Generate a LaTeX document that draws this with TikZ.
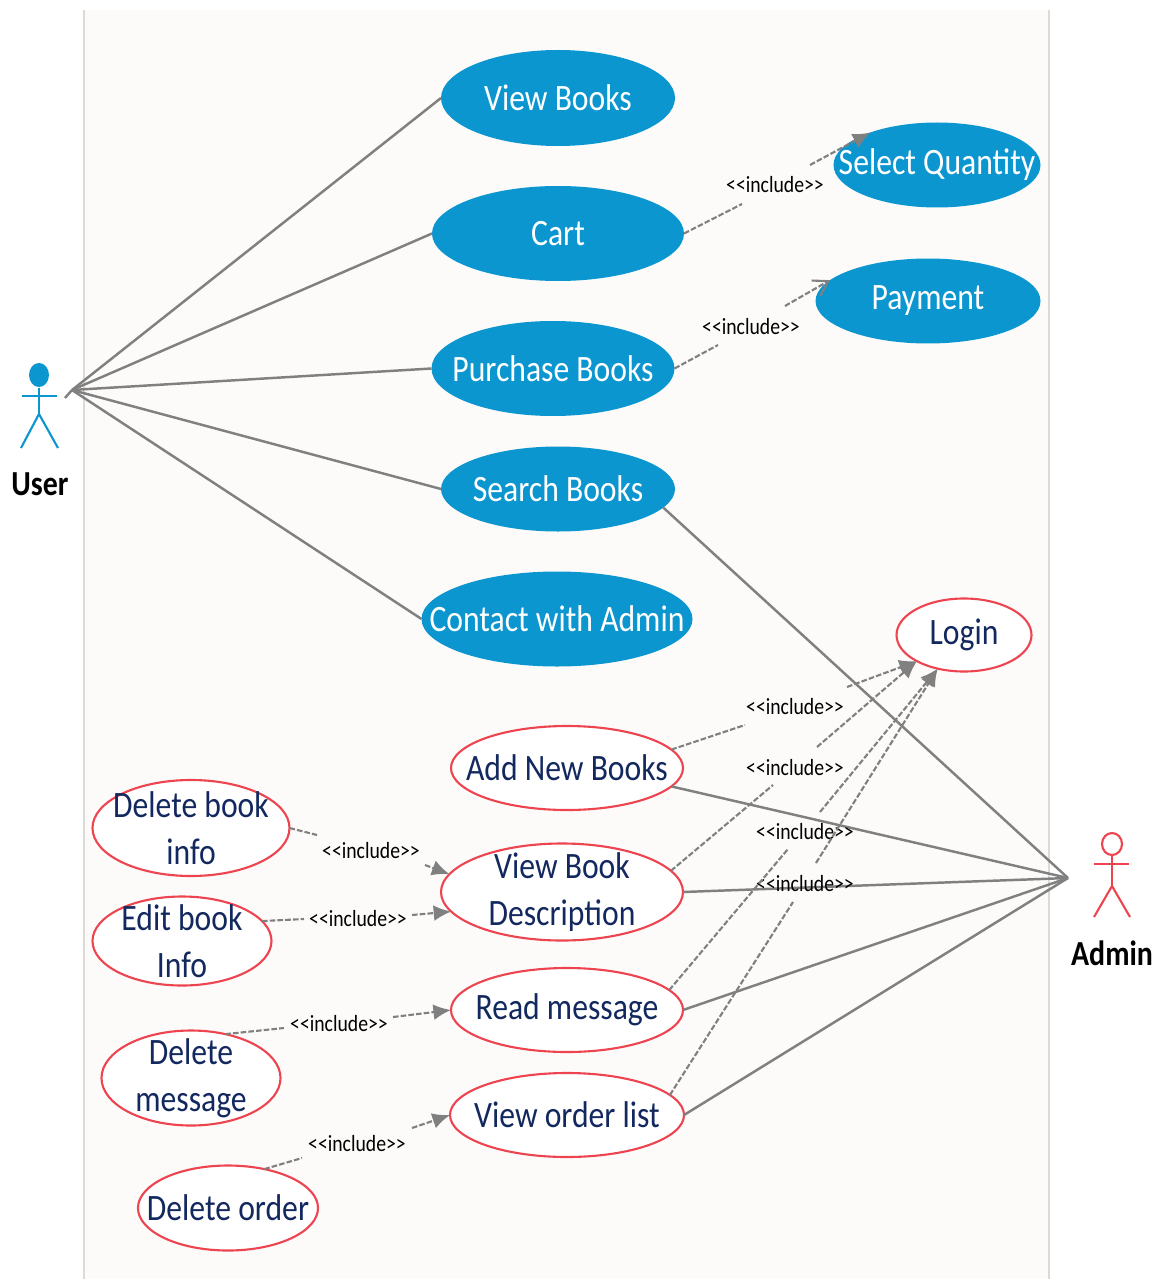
\documentclass[tikz,border=0pt]{standalone}
\usepackage{fontspec}
\setmainfont[FakeStretch=0.85]{Carlito}
\usetikzlibrary{positioning}
\usetikzlibrary{arrows.meta}
\usetikzlibrary{shapes.geometric}
\definecolor{ucblue}{HTML}{0B96D0}
\definecolor{ucred}{HTML}{EE4450}
\definecolor{ucnavy}{HTML}{12285E}
\definecolor{ucgrey}{HTML}{808080}
\definecolor{ucback}{HTML}{FCFBFA}
\definecolor{ucside}{HTML}{DDDAD6}
\newcommand{\incltext}{<{}<include>{}>}
\tikzset{
   usecase/.style={ellipse,inner sep=-16pt,outer sep=0pt,align=center,yshift=0pt,font=\fontsize{10.6}{13.4}\selectfont},
   bluecase/.style={usecase,fill=ucblue,text=white},
   redcase/.style={usecase,draw=ucred,line width=0.6pt,fill=white,text=ucnavy},
   assoc/.style={draw=ucgrey,line width=0.7pt},
   incl/.style={draw=ucgrey,line width=0.6pt,dash pattern=on 1.6pt off 0.6pt},
   incltip/.style={incl,-{Latex[length=5pt,width=4.5pt]}},
   incllabel/.style={inner sep=0pt,font=\fontsize{6.6}{8}\selectfont,text=black},
   actorname/.style={inner sep=0pt,font=\fontsize{10}{13}\bfseries\selectfont,text=black},
}
\begin{document}
\begin{tikzpicture}
   \useasboundingbox (0,0) rectangle (11.72,-12.79);
   \fill[ucback] (0.84,-0.10) rectangle (10.49,-12.79);
   \draw[ucside,line width=0.5pt] (0.84,-0.10) -- (0.84,-12.79);
   \draw[ucside,line width=0.5pt] (10.49,-0.10) -- (10.49,-12.79);

   % user cases
   \node[bluecase,minimum width=2.34cm,minimum height=0.96cm] (view) at (5.58,-0.98) {View Books};
   \node[bluecase,minimum width=2.52cm,minimum height=0.95cm,below=0.40cm of view] (cart) {Cart};
   \node[bluecase,minimum width=2.43cm,minimum height=0.95cm,below=0.40cm of cart,xshift=-0.05cm] (purchase) {Purchase Books};
   \node[bluecase,minimum width=2.34cm,minimum height=0.85cm] (search) at (5.58,-4.89) {Search Books};
   \node[bluecase,minimum width=2.71cm,minimum height=0.95cm] (contact) at (5.57,-6.19) {Contact with Admin};
   \node[bluecase,minimum width=2.07cm,minimum height=0.85cm] (quantity) at (9.37,-1.65) {Select Quantity};
   \node[bluecase,minimum width=2.25cm,minimum height=0.85cm] (payment) at (9.28,-3.01) {Payment};

   % admin cases
   \node[redcase,minimum width=1.35cm,minimum height=0.73cm] (login) at (9.64,-6.35) {Login};
   \node[redcase,minimum width=2.32cm,minimum height=0.84cm] (addbooks) at (5.67,-7.68) {Add New Books};
   \node[redcase,minimum width=2.42cm,minimum height=0.97cm] (bookdesc) at (5.62,-8.92) {View Book\\Description};
   \node[redcase,minimum width=2.32cm,minimum height=0.84cm] (readmsg) at (5.67,-10.10) {Read message};
   \node[redcase,minimum width=2.34cm,minimum height=0.84cm] (orders) at (5.67,-11.15) {View order list};
   \node[redcase,minimum width=1.97cm,minimum height=0.96cm] (delinfo) at (1.91,-8.28) {Delete book\\info};
   \node[redcase,minimum width=1.79cm,minimum height=0.89cm] (editinfo) at (1.82,-9.41) {Edit book\\Info};
   \node[redcase,minimum width=1.79cm,minimum height=0.95cm] (delmsg) at (1.91,-10.78) {Delete\\message};
   \node[redcase,minimum width=1.80cm,minimum height=0.85cm] (delorder) at (2.28,-12.08) {Delete order};

   % actors
   \coordinate (userneck) at (0.39,-3.87);
   \coordinate[below=0.27cm of userneck] (userhip);
   \coordinate (userhand) at (0.72,-3.90);
   \coordinate (usertick) at (0.65,-3.98);
   \node[ellipse,fill=ucblue,minimum width=0.20cm,minimum height=0.24cm,inner sep=0pt] (userhead) at (0.39,-3.75) {};
   \draw[ucblue,line width=0.6pt] (userhead) -- (userhip);
   \draw[ucblue,line width=0.6pt] (0.22,-3.96) -- (0.57,-3.96);
   \draw[ucblue,line width=0.6pt] (0.21,-4.48) -- (userhip) -- (0.58,-4.48);
   \node[actorname] (user) at (0.40,-4.84) {User};

   \coordinate (adminneck) at (11.12,-8.64);
   \coordinate[below=0.22cm of adminneck] (adminhip);
   \coordinate (adminhand) at (10.68,-8.78);
   \node[ellipse,draw=ucred,line width=0.6pt,minimum width=0.20cm,minimum height=0.22cm,inner sep=0pt] (adminhead) at (11.12,-8.44) {};
   \draw[ucred,line width=0.6pt] (adminhead) -- (adminhip);
   \draw[ucred,line width=0.6pt] (10.94,-8.64) -- (11.29,-8.64);
   \draw[ucred,line width=0.6pt] (10.94,-9.17) -- (adminhip) -- (11.30,-9.17);
   \node[actorname] (admin) at (11.12,-9.53) {Admin};

   % associations
   \draw[assoc] (usertick) -- (userhand);
   \draw[assoc] (userhand) -- (view.west);
   \draw[assoc] (userhand) -- (cart.west);
   \draw[assoc] (userhand) -- (purchase.west);
   \draw[assoc] (userhand) -- (search.west);
   \draw[assoc] (userhand) -- (contact.west);
   \draw[assoc] (adminhand) -- (search.-10);
   \draw[assoc] (adminhand) -- (addbooks.-10);
   \draw[assoc] (adminhand) -- (bookdesc.east);
   \draw[assoc] (adminhand) -- (readmsg.east);
   \draw[assoc] (adminhand) -- (orders.east);

   % include labels
   \node[incllabel] (i1) at (7.75,-1.85) {\incltext};
   \node[incllabel] (i2) at (7.51,-3.27) {\incltext};
   \node[incllabel] (i3) at (7.95,-7.07) {\incltext};
   \node[incllabel] (i4) at (7.95,-7.68) {\incltext};
   \node[incllabel] (i5) at (8.05,-8.32) {\incltext};
   \node[incllabel] (i6) at (8.05,-8.84) {\incltext};
   \node[incllabel] (i7) at (3.71,-8.51) {\incltext};
   \node[incllabel] (i8) at (3.58,-9.19) {\incltext};
   \node[incllabel] (i9) at (3.39,-10.24) {\incltext};
   \node[incllabel] (i10) at (3.57,-11.44) {\incltext};

   % dashed connectors, broken round the labels
   \coordinate (g1a) at (7.42,-2.04); \coordinate (g1b) at (8.10,-1.65);
   \coordinate (g2a) at (7.18,-3.45); \coordinate (g2b) at (7.85,-3.06);
   \coordinate (g3a) at (7.45,-7.25); \coordinate (g3b) at (8.47,-6.87);
   \coordinate (g4a) at (7.73,-7.85); \coordinate (g4b) at (8.17,-7.47);
   \coordinate (g5a) at (7.88,-8.49); \coordinate (g5b) at (8.20,-8.12);
   \coordinate (g6a) at (7.93,-9.02); \coordinate (g6b) at (8.16,-8.63);
   \coordinate (g7a) at (3.17,-8.35); \coordinate (g7b) at (4.25,-8.65);
   \coordinate (g8a) at (3.04,-9.19); \coordinate (g8b) at (4.12,-9.15);
   \coordinate (g9a) at (2.84,-10.28); \coordinate (g9b) at (3.93,-10.17);
   \coordinate (g10a) at (3.02,-11.58); \coordinate (g10b) at (4.12,-11.28);

   \draw[incl] (cart.east) -- (g1a);
   \draw[incltip] (g1b) -- (quantity.154);
   \draw[incl] (purchase.east) -- (g2a);
   \draw[incl,-{Straight Barb[length=4pt,width=5pt]}] (g2b) -- (payment.168);
   \draw[incl] (addbooks.10) -- (g3a);
   \draw[incltip] (g3b) -- (login.209);
   \draw[incl] (bookdesc.11) -- (g4a);
   \draw[incltip] (g4b) -- (login.209);
   \draw[incl] (readmsg.11) -- (g5a);
   \draw[incltip] (g5b) -- (login.232);
   \draw[incl] (orders.11) -- (g6a);
   \draw[incltip] (g6b) -- (login.232);
   \draw[incl] (delinfo.east) -- (g7a);
   \draw[incltip] (g7b) -- (bookdesc.171);
   \draw[incl] (editinfo.14) -- (g8a);
   \draw[incltip] (g8b) -- (bookdesc.190);
   \draw[incl] (delmsg.52) -- (g9a);
   \draw[incltip] (g9b) -- (readmsg.west);
   \draw[incl] (delorder.47) -- (g10a);
   \draw[incltip] (g10b) -- (orders.west);
\end{tikzpicture}
\end{document}
